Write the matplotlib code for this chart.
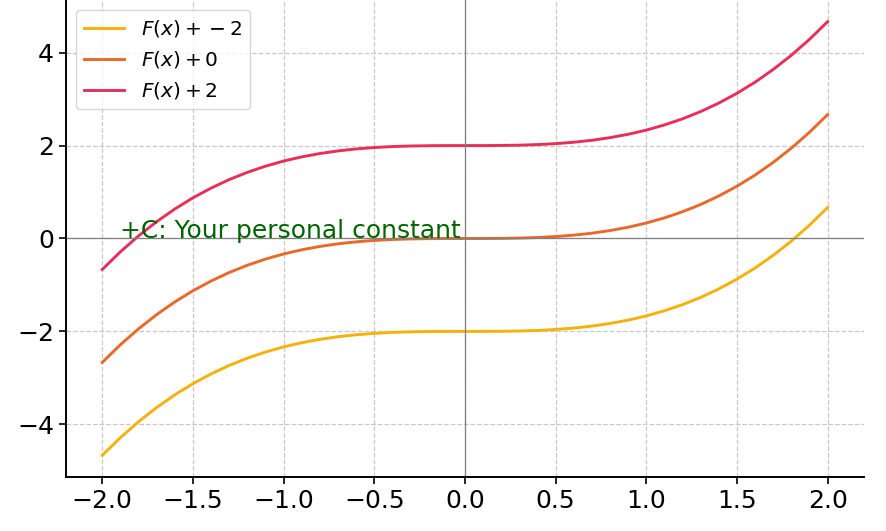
import numpy as np
import matplotlib.pyplot as plt

x = [-2.0, -1.9, -1.8, -1.7, -1.6, -1.5, -1.4, -1.3, -1.2, -1.1, -1.0,
     -0.9, -0.8, -0.7, -0.6, -0.5, -0.4, -0.3, -0.2, -0.1, 0.0,
     0.1, 0.2, 0.3, 0.4, 0.5, 0.6, 0.7, 0.8, 0.9, 1.0,
     1.1, 1.2, 1.3, 1.4, 1.5, 1.6, 1.7, 1.8, 1.9, 2.0]
F = [-2.667, -2.286, -1.944, -1.638, -1.365, -1.125, -0.915, -0.732, -0.576, -0.444, -0.333,
     -0.243, -0.171, -0.114, -0.072, -0.042, -0.021, -0.009, -0.003, 0.000, 0.000,
     0.000, 0.003, 0.009, 0.021, 0.042, 0.072, 0.114, 0.171, 0.243, 0.333,
     0.444, 0.576, 0.732, 0.915, 1.125, 1.365, 1.638, 1.944, 2.286, 2.667]

# Constants of integration
constants = [-2, 0, 2]
colors = ['#f5b10c', '#e8692a', '#e6305a']

fig = plt.figure(figsize=(8.86, 5.31), dpi=100)
ax = fig.add_axes([0.0745, 0.1017, 0.9005, 0.8983])

for C, col in zip(constants, colors):
    ax.plot(x, np.array(F) + C, color=col, lw=2.1, label=f'$F(x) + {C}$')

ax.axhline(0, color='gray', lw=0.9)
ax.axvline(0, color='gray', lw=0.9)
ax.text(-1.9, 0, '+C: Your personal constant', color='darkgreen', fontsize=18)

ax.grid(True, linestyle='--', color='#c8c8c8', lw=0.9)
ax.spines['top'].set_visible(False)
ax.spines['right'].set_visible(False)
ax.spines['left'].set_linewidth(1.4)
ax.spines['bottom'].set_linewidth(1.4)
ax.tick_params(labelsize=18, width=1.2, length=5)
ax.legend(loc='upper left', fontsize=14.5)

plt.savefig('out.png', dpi=100)
